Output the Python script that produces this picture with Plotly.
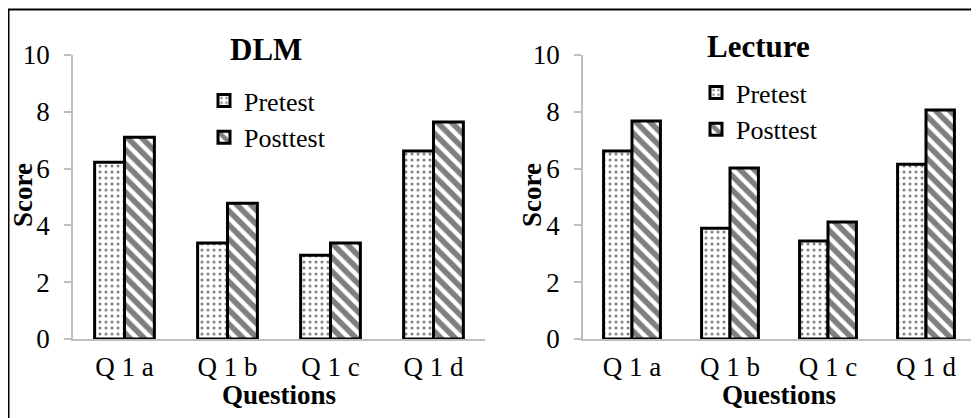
import plotly.graph_objects as go
from plotly.subplots import make_subplots

categories = ["Q 1 a", "Q 1 b", "Q 1 c", "Q 1 d"]
dlm_pretest = [6.22, 3.38, 2.95, 6.62]
dlm_posttest = [7.10, 4.78, 3.38, 7.64]
lecture_pretest = [6.62, 3.90, 3.45, 6.15]
lecture_posttest = [7.68, 6.02, 4.12, 8.06]
y_ticks = [0, 2, 4, 6, 8, 10]

W, H = 979, 418
OFF = 8  # page body margin offset
FONT = "Liberation Serif, Times New Roman, serif"

def px_x(v):
    return (v - OFF) / W

def px_y(v):
    return (H - (v - OFF)) / H

fig = make_subplots(rows=1, cols=2)

pre_pattern = dict(shape=".", size=6, solidity=0.2, fgcolor="black", bgcolor="white", fillmode="overlay")
post_pattern = dict(shape="\\", size=10, solidity=0.56, fgcolor="black", bgcolor="white", fillmode="overlay")

def add_pair(pre, post, col, legend):
    fig.add_trace(go.Bar(x=categories, y=pre, name="Pretest",
                         marker=dict(color="white", pattern=pre_pattern,
                                     line=dict(color="black", width=3)),
                         legend=legend), row=1, col=col)
    fig.add_trace(go.Bar(x=categories, y=post, name="Posttest",
                         marker=dict(color="white", pattern=post_pattern,
                                     line=dict(color="black", width=3)),
                         legend=legend), row=1, col=col)

add_pair(dlm_pretest, dlm_posttest, 1, "legend")
add_pair(lecture_pretest, lecture_posttest, 2, "legend2")

ydom = [px_y(339), px_y(55)]
axis_common = dict(showline=True, linecolor="#bfbfbf", linewidth=1.5, showgrid=False, zeroline=False,
                   automargin=False, tickfont=dict(family=FONT, size=27, color="black"))
fig.update_xaxes(**axis_common, ticks="", ticklabelstandoff=3)
fig.update_yaxes(**axis_common, range=[0, 10], tickvals=y_ticks, ticks="outside", ticklen=7,
                 tickcolor="#bfbfbf", tickwidth=1.5, ticklabelstandoff=9)
fig.update_layout(
    xaxis=dict(domain=[px_x(73), px_x(485)]),
    xaxis2=dict(domain=[px_x(583), min(1.0, px_x(975))]),
    yaxis=dict(domain=ydom),
    yaxis2=dict(domain=ydom),
)

legend_common = dict(font=dict(family=FONT, size=26, color="black"), bgcolor="rgba(0,0,0,0)",
                     borderwidth=0, xanchor="left", yanchor="top", itemwidth=30,
                     tracegroupgap=0, traceorder="normal")
fig.update_layout(
    width=W, height=H, autosize=False,
    margin=dict(l=0, r=0, t=0, b=0, pad=0, autoexpand=False),
    paper_bgcolor="white", plot_bgcolor="white",
    barmode="group", bargap=0.42, bargroupgap=0,
    showlegend=True,
    legend=dict(**legend_common, x=px_x(204), y=px_y(77)),
    legend2=dict(**legend_common, x=px_x(696), y=px_y(69)),
    font=dict(family=FONT, color="black"),
)

annots = [
    dict(text="<b>DLM</b>", x=px_x(266), y=px_y(50), size=31, angle=0),
    dict(text="<b>Lecture</b>", x=px_x(758), y=px_y(47), size=31, angle=0),
    dict(text="<b>Score</b>", x=px_x(23), y=px_y(195), size=27, angle=-90),
    dict(text="<b>Score</b>", x=px_x(532), y=px_y(195), size=27, angle=-90),
    dict(text="<b>Questions</b>", x=px_x(279), y=px_y(395), size=27, angle=0),
    dict(text="<b>Questions</b>", x=px_x(779), y=px_y(395), size=27, angle=0),
]
for a in annots:
    fig.add_annotation(text=a["text"], x=a["x"], y=a["y"], xref="paper", yref="paper",
                       xanchor="center", yanchor="middle", showarrow=False, textangle=a["angle"],
                       font=dict(family=FONT, size=a["size"], color="black"))

# outer frame (left and top edges visible)
fig.add_shape(type="rect", xref="paper", yref="paper",
              x0=px_x(8.5), x1=px_x(1000), y0=px_y(440), y1=px_y(9.5),
              line=dict(color="black", width=2), fillcolor="rgba(0,0,0,0)", layer="above")

fig.write_html("out.html", config={"responsive": False, "displayModeBar": False})
